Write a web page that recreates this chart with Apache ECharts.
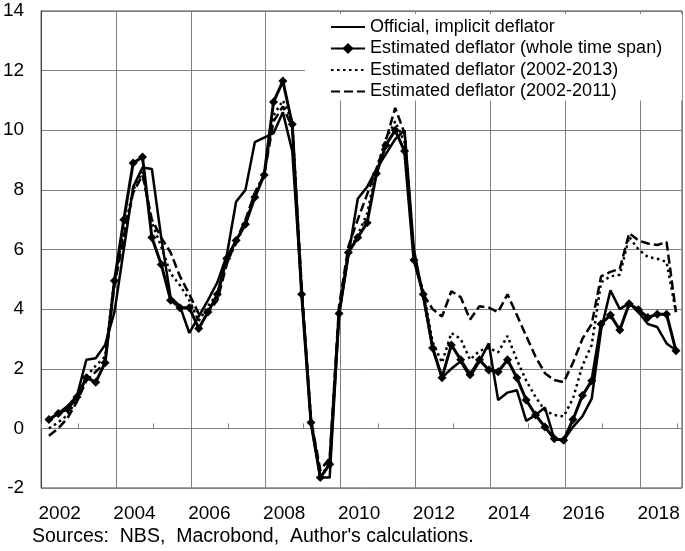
<!DOCTYPE html>
<html><head><meta charset="utf-8">
<script src="https://cdn.jsdelivr.net/npm/echarts@6/dist/echarts.min.js"></script>
<style>html,body{margin:0;padding:0;background:#fff}#c{width:685px;height:551px}</style>
</head><body><div id="c"></div>
<script>
const quarters = [
'2002Q1','2002Q2','2002Q3','2002Q4','2003Q1','2003Q2','2003Q3','2003Q4',
'2004Q1','2004Q2','2004Q3','2004Q4','2005Q1','2005Q2','2005Q3','2005Q4',
'2006Q1','2006Q2','2006Q3','2006Q4','2007Q1','2007Q2','2007Q3','2007Q4',
'2008Q1','2008Q2','2008Q3','2008Q4','2009Q1','2009Q2','2009Q3','2009Q4',
'2010Q1','2010Q2','2010Q3','2010Q4','2011Q1','2011Q2','2011Q3','2011Q4',
'2012Q1','2012Q2','2012Q3','2012Q4','2013Q1','2013Q2','2013Q3','2013Q4',
'2014Q1','2014Q2','2014Q3','2014Q4','2015Q1','2015Q2','2015Q3','2015Q4',
'2016Q1','2016Q2','2016Q3','2016Q4','2017Q1','2017Q2','2017Q3','2017Q4',
'2018Q1','2018Q2','2018Q3','2018Q4'];

const official = [0.3,0.5,0.75,1.1, 2.3,2.35,2.8,3.9, 6.0,8.1,8.75,8.7, 6.4,4.4,4.1,3.2,
 3.75,4.3,4.9,5.8, 7.6,8.0,9.6,9.75, 9.9,10.6,9.3,4.6, 0.2,-1.65,-1.65,3.8,
 5.8,7.7,8.1,8.7, 9.2,9.7,10.0,6.0, 4.4,2.7,1.7,2.0, 2.25,1.72,2.25,2.85,
 0.95,1.2,1.28,0.25, 0.45,0.7,-0.35,-0.4, 0.05,0.4,1.0,3.3, 4.63,4.0,4.2,3.9, 3.5,3.4,2.85,2.62];

const estWhole = [0.3,0.5,0.65,1.05, 1.7,1.55,2.2,4.95, 7.0,8.9,9.1,6.4, 5.5,4.3,4.05,4.05,
 3.35,3.9,4.5,5.7, 6.3,6.85,7.75,8.5, 10.95,11.65,10.2,4.5, 0.2,-1.65,-1.2,3.85,
 5.9,6.4,6.9,8.55, 9.5,10.0,9.3,5.65, 4.5,2.7,1.7,2.8, 2.3,1.8,2.3,1.96,
 1.9,2.3,1.7,0.95, 0.45,0.05,-0.35,-0.4, 0.3,1.1,1.6,3.5, 3.8,3.3,4.18,3.98, 3.72,3.83,3.83,2.6];

const est2013 = [0.0,0.2,0.45,1.0, 1.75,2.1,2.4,5.0, 6.6,8.0,8.6,6.9, 6.1,5.2,4.8,4.3,
 3.6,4.1,4.5,5.6, 6.2,6.9,7.9,8.5, 10.5,11.0,10.3,4.6, 0.3,-1.6,-1.2,3.9,
 5.9,6.5,7.2,8.7, 9.7,10.3,9.6,5.7, 4.6,2.9,2.2,3.2, 3.0,2.3,2.6,2.7,
 2.55,3.1,2.3,1.6, 1.05,0.6,0.45,0.4, 1.0,2.1,2.8,4.9, 5.1,5.15,6.42,6.0, 5.75,5.69,5.58,3.9];

const est2011 = [-0.25,0.0,0.35,0.9, 1.6,1.9,2.2,4.8, 6.4,7.9,8.5,7.0, 6.4,5.9,5.1,4.5,
 3.85,3.9,4.3,5.5, 6.3,7.0,7.9,8.5, 10.3,10.8,10.1,4.8, 0.3,-1.4,-1.0,4.1,
 6.1,7.0,7.85,8.7, 9.65,10.75,9.9,5.7, 4.5,4.0,3.75,4.6, 4.4,3.65,4.1,4.05,
 3.9,4.5,3.8,3.1, 2.4,1.85,1.62,1.55, 2.2,3.0,3.5,5.1, 5.25,5.35,6.55,6.3, 6.2,6.15,6.25,3.9];

const seriesNames = ['Official, implicit deflator','Estimated deflator (whole time span)',
 'Estimated deflator (2002-2013)','Estimated deflator (2002-2011)'];
const yMin = -2, yMax = 14, yStep = 2;
const xMin = 2002, xMax = 2019.12, xStep = 2;
const sourceNote = 'Sources:  NBS,  Macrobond,  Author\'s calculations.';

// date of a quarter: middle of its last month
function qx(label){ const y = +label.slice(0,4), q = +label.slice(5); return y + (3*q - 0.5)/12; }
function pts(arr){ return quarters.map((q,i)=>[qx(q), arr[i]]); }

const FONT = '"Liberation Sans", Arial, sans-serif';
const noMark = {color:'rgba(0,0,0,0)',borderColor:'rgba(0,0,0,0)',borderWidth:0};
const chart = echarts.init(document.getElementById('c'), null, {renderer:'canvas'});
chart.setOption({
  animation:false,
  backgroundColor:'#fff',
  grid:{left:40,right:3,top:11,bottom:63,show:true,borderColor:'#404040',borderWidth:1,backgroundColor:'transparent'},
  xAxis:[{
    type:'value',min:xMin,max:xMax,interval:xStep,position:'bottom',
    axisLine:{show:false,onZero:false},axisTick:{show:false},
    splitLine:{show:true,lineStyle:{color:'#808080',width:1}},
    axisLabel:{show:true,showMaxLabel:false,color:'#000',fontSize:19,fontFamily:FONT,margin:16,
      align:'center',padding:[0,0,0,37],formatter:v=>String(v)}
  },{
    type:'value',min:xMin,max:xMax,interval:xStep,position:'bottom',
    axisLine:{show:true,onZero:true,lineStyle:{color:'#808080',width:1}},
    axisTick:{show:true,inside:true,length:5,lineStyle:{color:'#808080'}},
    minorTick:{show:true,splitNumber:2,length:5,lineStyle:{color:'#808080'}},
    splitLine:{show:false},axisLabel:{show:false}
  }],
  yAxis:{
    type:'value',min:yMin,max:yMax,interval:yStep,
    axisLine:{show:true,lineStyle:{color:'#404040'}},axisTick:{show:false},
    splitLine:{show:true,lineStyle:{color:'#808080',width:1}},
    axisLabel:{color:'#000',fontSize:19,fontFamily:FONT,margin:17}
  },
  legend:{
    orient:'vertical',left:305,top:14,padding:[4,20,0,25],backgroundColor:'#fff',
    itemWidth:34,itemHeight:14,itemGap:3.5,
    textStyle:{fontSize:18,fontFamily:FONT,color:'#000'},
    data:[
      {name:seriesNames[0],itemStyle:noMark},
      {name:seriesNames[1]},
      {name:seriesNames[2],itemStyle:noMark},
      {name:seriesNames[3],itemStyle:noMark}
    ]
  },
  series:[
    {name:seriesNames[0],type:'line',xAxisIndex:0,data:pts(official),showSymbol:false,symbol:'none',
     lineStyle:{color:'#000',width:2.5},itemStyle:{color:'#000'},z:3},
    {name:seriesNames[1],type:'line',xAxisIndex:0,data:pts(estWhole),symbol:'diamond',symbolSize:9,
     lineStyle:{color:'#000',width:3},itemStyle:{color:'#000'},z:4},
    {name:seriesNames[2],type:'line',xAxisIndex:0,data:pts(est2013),showSymbol:false,symbol:'none',
     lineStyle:{color:'#000',width:2.5,type:[2.5,3.5]},itemStyle:{color:'#000'},z:2},
    {name:seriesNames[3],type:'line',xAxisIndex:0,data:pts(est2011),showSymbol:false,symbol:'none',
     lineStyle:{color:'#000',width:2.5,type:[9,4]},itemStyle:{color:'#000'},z:2}
  ],
  graphic:[{type:'text',left:32,top:527,style:{text:sourceNote,fontSize:19.5,fontFamily:FONT,fill:'#000'}}]
});
</script></body></html>
